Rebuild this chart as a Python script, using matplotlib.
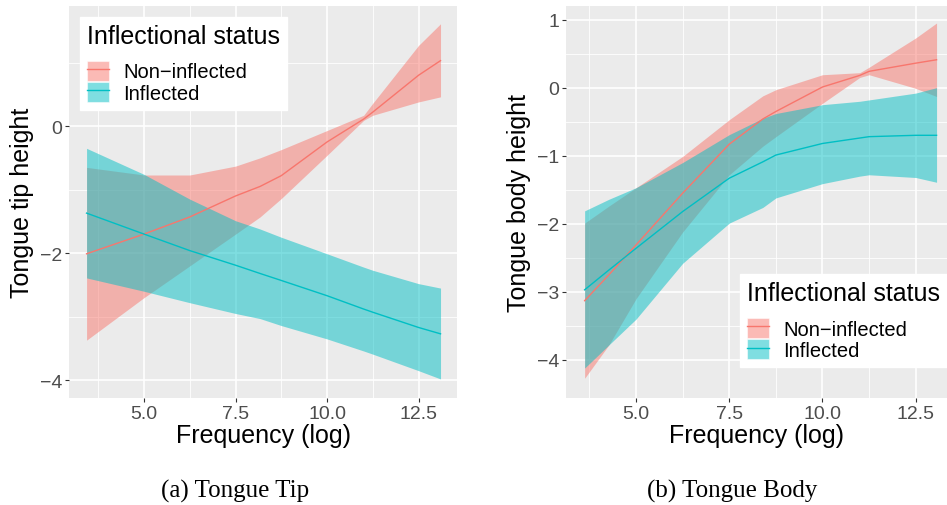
# Tongue tip / tongue body height by frequency, two ggplot-style panels

import matplotlib.pyplot as plt
from matplotlib.patches import Patch
from matplotlib.lines import Line2D

plt.rcParams['font.family'] = ['Liberation Sans', 'DejaVu Sans']

# Data: tongue tip
freq_tip = [3.43, 5.0, 6.25, 7.5, 8.17, 8.75, 10.0, 11.0, 11.25, 12.5, 13.1]
tip_non = [-2.01, -1.70, -1.43, -1.10, -0.95, -0.78, -0.25, 0.11, 0.22, 0.80, 1.03]
tip_non_hi = [-0.65, -0.77, -0.77, -0.63, -0.50, -0.37, -0.07, 0.17, 0.36, 1.27, 1.61]
tip_non_lo = [-3.37, -2.70, -2.20, -1.70, -1.43, -1.14, -0.46, 0.09, 0.17, 0.38, 0.46]
tip_inf = [-1.37, -1.70, -1.96, -2.19, -2.32, -2.43, -2.67, -2.88, -2.93, -3.17, -3.27]
tip_inf_hi = [-0.35, -0.76, -1.15, -1.49, -1.62, -1.75, -2.01, -2.22, -2.27, -2.48, -2.55]
tip_inf_lo = [-2.39, -2.60, -2.78, -2.95, -3.03, -3.14, -3.35, -3.54, -3.59, -3.85, -3.98]

# Data: tongue body
freq_body = [3.62, 4.27, 5.0, 6.25, 7.5, 8.4, 8.75, 10.0, 11.0, 11.25, 12.5, 13.06]
body_non = [-3.13, -2.75, -2.31, -1.55, -0.83, -0.46, -0.35, 0.01, 0.18, 0.24, 0.36, 0.41]
body_non_hi = [-1.99, -1.74, -1.47, -1.01, -0.47, -0.12, -0.03, 0.19, 0.22, 0.30, 0.73, 0.95]
body_non_lo = [-4.27, -3.78, -3.10, -2.12, -1.28, -0.86, -0.72, -0.23, 0.15, 0.19, -0.01, -0.13]
body_inf = [-2.97, -2.68, -2.36, -1.82, -1.33, -1.09, -0.99, -0.82, -0.74, -0.72, -0.70, -0.70]
body_inf_hi = [-1.81, -1.64, -1.47, -1.10, -0.69, -0.45, -0.38, -0.25, -0.20, -0.18, -0.08, 0.0]
body_inf_lo = [-4.12, -3.78, -3.40, -2.58, -1.99, -1.76, -1.62, -1.41, -1.30, -1.28, -1.32, -1.39]

labels = ['Non\u2212inflected', 'Inflected']
red = '#F8766D'
cyan = '#00BFC4'

fig = plt.figure(figsize=(9.47, 5.06), dpi=100)
W, H = 947, 506


def make_axes(x0, x1, y0, y1):
    return fig.add_axes([x0 / W, 1 - y1 / H, (x1 - x0) / W, (y1 - y0) / H])


def style(ax, xlim, ylim, yticks, yminor, ylabel):
    ax.set_facecolor('#EBEBEB')
    for s in ax.spines.values():
        s.set_visible(False)
    ax.set_xlim(*xlim)
    ax.set_ylim(*ylim)
    ax.set_xticks([5.0, 7.5, 10.0, 12.5])
    ax.set_xticklabels(['5.0', '7.5', '10.0', '12.5'])
    ax.set_xticks([3.75, 6.25, 8.75, 11.25], minor=True)
    ax.set_yticks(yticks)
    ax.set_yticklabels([str(t).replace('-', '\u2212') for t in yticks])
    ax.set_yticks(yminor, minor=True)
    ax.grid(True, which='major', color='white', lw=1.2)
    ax.grid(True, which='minor', color='white', lw=0.6)
    ax.set_axisbelow(True)
    ax.tick_params(which='major', length=3, color='#333333', labelsize=14,
                   labelcolor='#4D4D4D', pad=2)
    ax.tick_params(which='minor', length=0)
    ax.set_xlabel('Frequency (log)', fontsize=18, labelpad=1)
    ax.set_ylabel(ylabel, fontsize=18, labelpad=4)


def draw(ax, x, m1, lo1, hi1, m2, lo2, hi2):
    ax.fill_between(x, lo1, hi1, color=red, alpha=0.5, lw=0)
    ax.plot(x, m1, color=red, lw=1)
    ax.fill_between(x, lo2, hi2, color=cyan, alpha=0.5, lw=0)
    ax.plot(x, m2, color=cyan, lw=1)


def legend(ax, loc, anchor):
    handles = [(Patch(facecolor=red, alpha=0.5, edgecolor='white', lw=0.8),
                Line2D([], [], color=red, lw=1)),
               (Patch(facecolor=cyan, alpha=0.5, edgecolor='white', lw=0.8),
                Line2D([], [], color=cyan, lw=1))]
    leg = ax.legend(handles, labels, title='Inflectional status', loc=loc,
                    bbox_to_anchor=anchor, fontsize=14.5, title_fontsize=18,
                    frameon=True, fancybox=False, framealpha=1, edgecolor='white',
                    handlelength=1.1, handleheight=1.15, labelspacing=0.02,
                    handletextpad=0.7, borderpad=0.35, borderaxespad=0)
    leg._legend_box.align = 'left'
    leg._legend_box.sep = 9
    return leg


# Panel (a)
ax1 = make_axes(69, 457, 7, 399)
draw(ax1, freq_tip, tip_non, tip_non_lo, tip_non_hi, tip_inf, tip_inf_lo, tip_inf_hi)
style(ax1, (2.95, 13.55), (-4.28, 1.89), [-4, -2, 0], [-3, -1, 1], 'Tongue tip height')
legend(ax1, 'upper left', (0.028, 0.972))

# Panel (b)
ax2 = make_axes(566, 947, 7, 399)
draw(ax2, freq_body, body_non, body_non_lo, body_non_hi, body_inf, body_inf_lo, body_inf_hi)
style(ax2, (3.12, 13.34), (-4.56, 1.2), [-4, -3, -2, -1, 0, 1],
      [-3.5, -2.5, -1.5, -0.5, 0.5], 'Tongue body height')
legend(ax2, 'lower right', (1.0, 0.079))

# captions
fig.text(235 / W, 1 - 498 / H, '(a) Tongue Tip', ha='center', va='baseline',
         fontsize=18, family='Liberation Serif')
fig.text(732 / W, 1 - 498 / H, '(b) Tongue Body', ha='center', va='baseline',
         fontsize=18, family='Liberation Serif')

fig.savefig('out.png', dpi=100)
